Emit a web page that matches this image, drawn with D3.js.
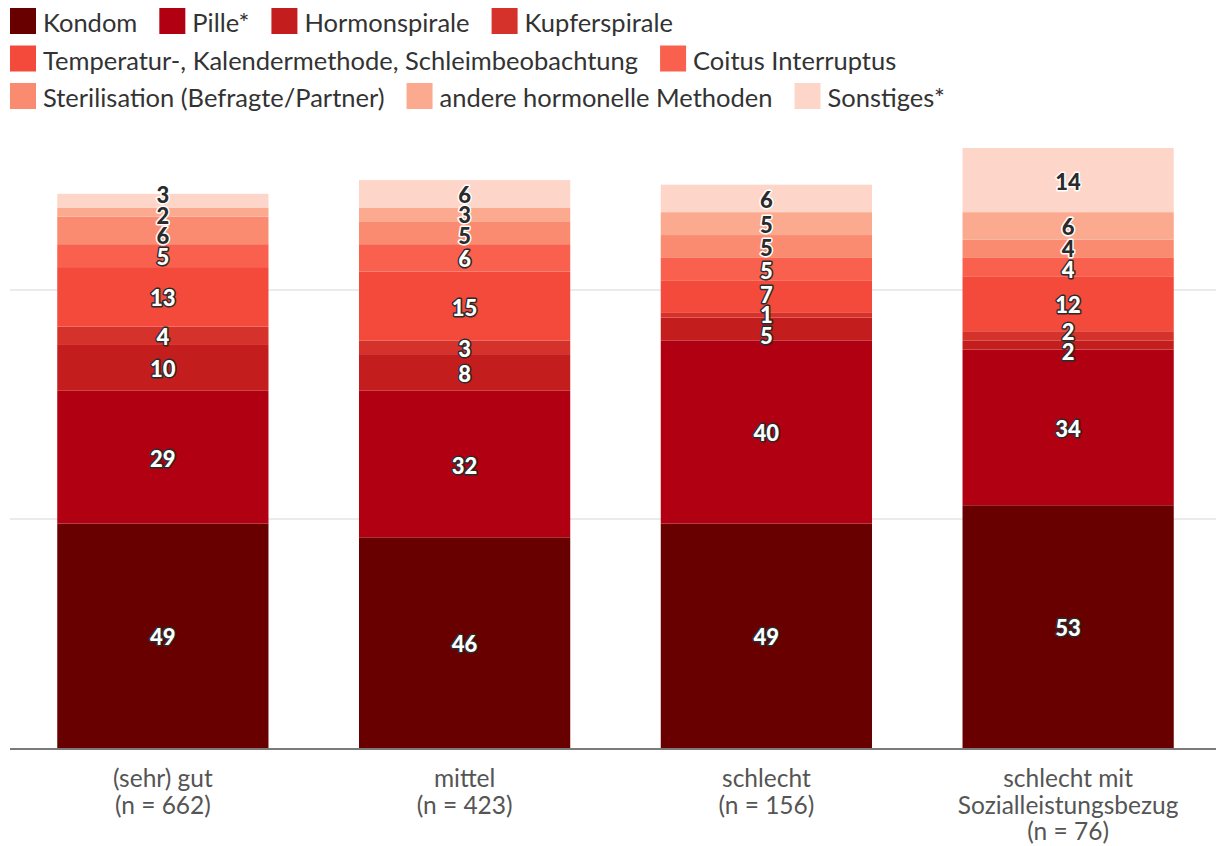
<!DOCTYPE html>
<html><head><meta charset="utf-8">
<script src="https://cdn.jsdelivr.net/npm/d3@7"></script>
<style>
html,body{margin:0;padding:0;background:#fff;}
svg{display:block;}
</style></head><body>
<svg id="chart" width="1216" height="846"></svg>
<script>
const categories = ["(sehr) gut|(n = 662)", "mittel|(n = 423)", "schlecht|(n = 156)", "schlecht mit|Sozialleistungsbezug|(n = 76)"];
const seriesNames = ["Kondom", "Pille*", "Hormonspirale", "Kupferspirale", "Temperatur-, Kalendermethode, Schleimbeobachtung", "Coitus Interruptus", "Sterilisation (Befragte/Partner)", "andere hormonelle Methoden", "Sonstiges*"];
const kondom        = [49, 46, 49, 53];
const pille         = [29, 32, 40, 34];
const hormonspirale = [10, 8, 5, 2];
const kupferspirale = [4, 3, 1, 2];
const temperatur    = [13, 15, 7, 12];
const coitus        = [5, 6, 5, 4];
const sterilisation = [6, 5, 5, 4];
const andereHormon  = [2, 3, 5, 6];
const sonstiges     = [3, 6, 6, 14];
const gridTicks = [50, 100];

const seriesValues = [kondom, pille, hormonspirale, kupferspirale, temperatur, coitus, sterilisation, andereHormon, sonstiges];
const colors = ["#690000", "#b00012", "#c41d1d", "#d5322b", "#f34a3c", "#f9604e", "#fb8b70", "#fcaa8f", "#fdd6c9"];
const darkLabel = [false,false,false,false,false,false,true,true,true];

const svg = d3.select("#chart");
const FONT = "Lato, 'Open Sans', sans-serif";

const table = categories.map((c, i) => {
  const o = {cat: c};
  seriesNames.forEach((s, j) => o[s] = seriesValues[j][i]);
  return o;
});
const stack = d3.stack().keys(seriesNames)(table);

const x = d3.scaleBand().domain(categories).range([15, 1216]).paddingInner(0.3).paddingOuter(0.14);
const y = d3.scaleLinear().domain([0, 100]).range([748, 290]);

// grid
svg.append("g").selectAll("line").data(gridTicks).join("line")
  .attr("x1", 10).attr("x2", 1216)
  .attr("y1", d => y(d)).attr("y2", d => y(d))
  .attr("stroke", "#e4e4e4").attr("stroke-width", 1.5);

// bars
const layers = svg.append("g").selectAll("g").data(stack).join("g")
  .attr("fill", (d, i) => colors[i]);
layers.selectAll("rect").data(d => d).join("rect")
  .attr("x", d => x(d.data.cat))
  .attr("width", x.bandwidth())
  .attr("y", d => y(d[1]))
  .attr("height", d => y(d[0]) - y(d[1]));

// axis baseline
const xAxis = d3.axisBottom(x).tickSize(0).tickFormat("");
const ax = svg.append("g").attr("transform", `translate(0,${y(0)})`).call(xAxis);
ax.select(".domain").remove();
svg.append("line").attr("x1", 10).attr("x2", 1216).attr("y1", y(0)+1).attr("y2", y(0)+1)
  .attr("stroke", "#7a7a7a").attr("stroke-width", 2);

// category labels
categories.forEach(c => {
  const lines = c.split("|");
  const t = svg.append("text").attr("text-anchor", "middle")
    .attr("font-family", FONT).attr("font-size", 24.5).attr("fill", "#555")
    .attr("x", x(c) + x.bandwidth()/2).attr("y", 787);
  lines.forEach((l, k) => t.append("tspan").attr("x", x(c) + x.bandwidth()/2).attr("dy", k === 0 ? 0 : 26.5).text(l));
});

// value labels with spreading
const gap = 20.5;
categories.forEach((c, ci) => {
  let labs = stack.map((s, si) => ({si, v: seriesValues[si][ci], pos: (y(s[ci][0]) + y(s[ci][1]))/2 + 1}));
  for (let it = 0; it < 200; it++) {
    for (let k = 1; k < labs.length; k++) {
      const a = labs[k-1], b = labs[k];
      const d = a.pos - b.pos;
      if (d < gap) { const m = (gap - d)/2; a.pos += m; b.pos -= m; }
    }
  }
  labs.forEach(l => {
    const dark = darkLabel[l.si];
    svg.append("text").attr("text-anchor", "middle").attr("dominant-baseline", "central")
      .attr("x", x(c) + x.bandwidth()/2).attr("y", l.pos)
      .attr("font-family", FONT).attr("font-weight", 900).attr("font-size", 22)
      .attr("fill", dark ? "#2b2b2b" : "#fff")
      .attr("stroke", dark ? "#fff" : "#2b2b2b").attr("stroke-width", 3)
      .attr("paint-order", "stroke").attr("stroke-linejoin", "round")
      .text(l.v);
  });
});

// legend (flow layout)
const lg = svg.append("g");
let lx = 10, ly = 8;
const rowH = 37.5, sw = 26, maxW = 1216, tGap = 7, iGap = 22;
seriesNames.forEach((s, i) => {
  const g = lg.append("g");
  g.append("rect").attr("width", sw).attr("height", sw).attr("fill", colors[i]);
  const t = g.append("text").attr("x", sw + tGap).attr("y", sw/2 + 1).attr("dominant-baseline", "central")
    .attr("font-family", FONT).attr("font-size", 25.5).attr("fill", "#333").text(s);
  const w = sw + tGap + t.node().getComputedTextLength();
  if (lx + w > maxW - 10 && lx > 10) { lx = 10; ly += rowH; }
  g.attr("transform", `translate(${lx},${ly})`);
  lx += w + iGap;
});
</script>
</body></html>
